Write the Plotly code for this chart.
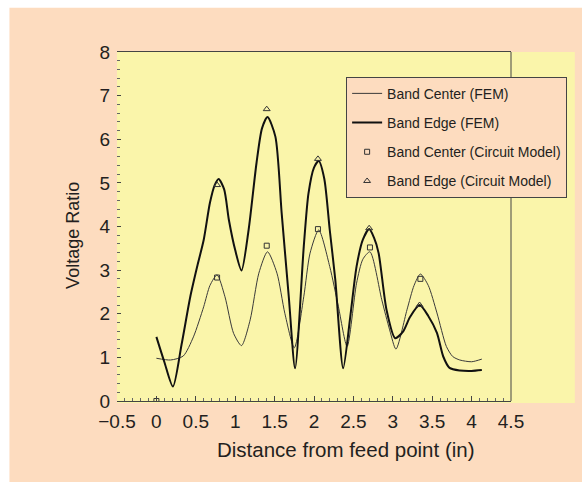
import plotly.graph_objects as go

# Distance from feed point (in) and voltage ratio for each curve
center_fem_x = [0.00, 0.18, 0.34, 0.47, 0.60, 0.68, 0.77, 0.87, 0.98, 1.08, 1.19, 1.30, 1.41,
                1.53, 1.63, 1.75, 1.87, 1.95, 2.06, 2.20, 2.31, 2.42, 2.54, 2.62, 2.71, 2.86,
                2.96, 3.04, 3.18, 3.27, 3.35, 3.45, 3.56, 3.68, 3.76, 3.85, 4.00, 4.13]
center_fem_y = [0.98, 0.94, 1.03, 1.47, 2.16, 2.65, 2.89, 2.39, 1.55, 1.27, 1.86, 2.93, 3.42,
                2.93, 2.01, 1.22, 2.39, 3.39, 3.92, 3.08, 2.16, 1.25, 2.70, 3.25, 3.42, 2.32,
                1.63, 1.19, 2.09, 2.65, 2.91, 2.65, 2.02, 1.25, 1.02, 0.94, 0.90, 0.96]

edge_fem_x = [0.00, 0.10, 0.21, 0.32, 0.43, 0.52, 0.60, 0.68, 0.74, 0.79, 0.86, 0.92, 1.00, 1.08,
              1.17, 1.27, 1.34, 1.41, 1.51, 1.59, 1.68, 1.76, 1.87, 1.93, 2.00, 2.06, 2.13,
              2.20, 2.27, 2.37, 2.46, 2.54, 2.62, 2.70, 2.76, 2.82, 2.92, 3.03, 3.13, 3.22,
              3.34, 3.45, 3.56, 3.64, 3.72, 3.85, 4.00, 4.13]
edge_fem_y = [1.47, 0.90, 0.33, 1.30, 2.39, 3.10, 3.69, 4.55, 4.95, 5.09, 4.85, 4.15, 3.46, 2.99,
              3.92, 5.45, 6.25, 6.51, 6.06, 4.30, 2.39, 0.75, 3.54, 4.76, 5.35, 5.50, 5.10,
              3.92, 2.78, 0.75, 1.93, 3.08, 3.70, 3.94, 3.75, 3.39, 2.09, 1.44, 1.59, 1.93,
              2.20, 1.95, 1.56, 1.02, 0.76, 0.70, 0.69, 0.71]

center_circuit_x = [0.00, 0.77, 1.40, 2.05, 2.71, 3.35]
center_circuit_y = [0.00, 2.83, 3.56, 3.94, 3.52, 2.80]

edge_circuit_x = [0.77, 1.40, 2.05, 2.70, 3.34]
edge_circuit_y = [4.95, 6.69, 5.55, 3.96, 2.20]

x_ticks = [-0.5, 0, 0.5, 1, 1.5, 2, 2.5, 3, 3.5, 4, 4.5]
x_tick_text = ["\u22120.5", "0", "0.5", "1", "1.5", "2", "2.5", "3", "3.5", "4", "4.5"]
y_ticks = [0, 1, 2, 3, 4, 5, 6, 7, 8]

PEACH = "#FDDCBF"
YELLOW = "#FAF5AA"
INK = "#231F20"
FONT = "Liberation Sans, Arial, sans-serif"

fig = go.Figure()

fig.add_trace(go.Scatter(
    x=center_fem_x, y=center_fem_y, mode="lines", name="Band Center (FEM)",
    line=dict(color="#3a3a3a", width=1, shape="spline", smoothing=0.7),
    legendgroup="a"))
fig.add_trace(go.Scatter(
    x=edge_fem_x, y=edge_fem_y, mode="lines", name="Band Edge (FEM)",
    line=dict(color="#111111", width=2, shape="spline", smoothing=0.7),
    legendgroup="b"))
fig.add_trace(go.Scatter(
    x=center_circuit_x, y=center_circuit_y, mode="markers", name="Band Center (Circuit Model)",
    marker=dict(symbol="square-open", size=5, color="#333333", line=dict(width=1)),
    legendgroup="c"))
fig.add_trace(go.Scatter(
    x=edge_circuit_x, y=edge_circuit_y, mode="markers", name="Band Edge (Circuit Model)",
    marker=dict(symbol="triangle-up-open", size=6, color="#333333", line=dict(width=1)),
    legendgroup="d"))

# White page strips along the top and left edges
fig.add_shape(type="rect", xref="paper", yref="paper", x0=-0.4, x1=1.4, y0=1.127, y1=1.3,
              fillcolor="white", line_width=0, layer="below")
fig.add_shape(type="rect", xref="paper", yref="paper", x0=-0.4, x1=-0.273, y0=-0.5, y1=1.3,
              fillcolor="white", line_width=0, layer="below")
# Yellow field extending past the right edge of the axes
fig.add_shape(type="rect", xref="paper", yref="paper", x0=0, x1=1.162, y0=-0.006, y1=1.0,
              fillcolor=YELLOW, line_width=0, layer="below")
# Right frame line
fig.add_shape(type="line", xref="paper", yref="paper", x0=1, x1=1, y0=0, y1=1,
              line=dict(color="#444444", width=1))

fig.add_annotation(text="Distance from feed point (in)", xref="paper", yref="paper",
                   x=0.58, y=-0.14, xanchor="center", yanchor="middle",
                   showarrow=False, font=dict(size=20.5, color=INK, family=FONT))
fig.add_annotation(text="Voltage Ratio", xref="paper", yref="paper", textangle=-90,
                   x=-0.11, y=0.475, xanchor="center", yanchor="middle",
                   showarrow=False, font=dict(size=18, color=INK, family=FONT))

fig.update_xaxes(
    range=[-0.5, 4.5], tickvals=x_ticks, ticktext=x_tick_text,
    ticks="inside", ticklen=5, tickcolor="#444444", tickwidth=1,
    minor=dict(dtick=0.1, ticks="inside", ticklen=3, tickcolor="#666666"),
    showline=True, mirror=True, linecolor="#444444", linewidth=1,
    showgrid=False, zeroline=False,
    tickfont=dict(size=19, color=INK, family=FONT), ticklabelstandoff=3)
fig.update_yaxes(
    range=[0, 8], tickvals=y_ticks,
    ticks="inside", ticklen=4, tickcolor="#444444", tickwidth=1,
    minor=dict(dtick=0.2, ticks="inside", ticklen=3, tickcolor="#666666"),
    showline=False, showgrid=False, zeroline=False,
    tickfont=dict(size=19, color=INK, family=FONT), ticklabelstandoff=6)

fig.update_layout(
    width=582, height=482,
    margin=dict(l=117, r=71, t=52, b=81),
    paper_bgcolor=PEACH, plot_bgcolor=YELLOW,
    font=dict(family=FONT, color=INK),
    showlegend=True,
    legend=dict(
        x=0.5815, y=0.929, xanchor="left", yanchor="top",
        bgcolor=PEACH, bordercolor="#444444", borderwidth=1,
        font=dict(size=14, color=INK, family=FONT),
        traceorder="grouped", tracegroupgap=8,
        itemwidth=30),
)

fig.write_html("out.html")
